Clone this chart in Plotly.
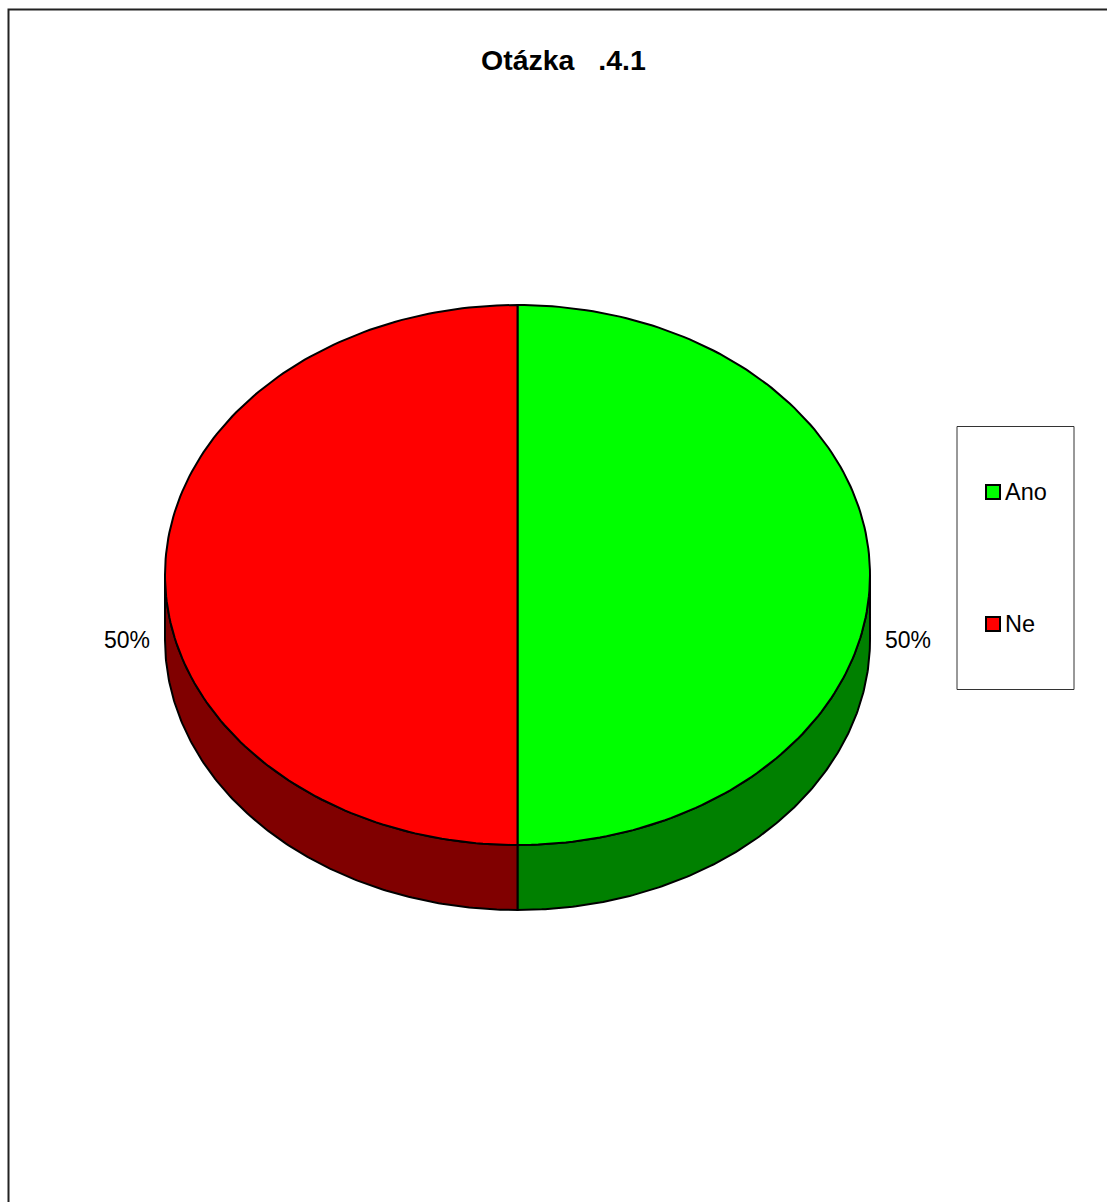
import math
import plotly.graph_objects as go

# Survey answers for question 4.1
categories = ["Ano", "Ne"]
values = [50, 50]
top_colors = ["#00FF00", "#FF0000"]
side_colors = ["#008000", "#800000"]
title_text = "Otázka\u00a0\u00a0\u00a0.4.1"

W, H = 1107, 1202
FONT = "Arial, 'Liberation Sans', Helvetica, sans-serif"

# Ellipse geometry of the tilted pie (pixel coordinates, y grows downward)
CX, CY = 517.5, 575.0
RX, RY = 352.5, 270.0
DEPTH = 65.0


def pt(deg, drop=0.0):
    r = math.radians(deg)
    return CX + RX * math.cos(r), CY - RY * math.sin(r) + drop


def arc(a_from, a_to, drop=0.0, n=160):
    xs, ys = [], []
    for i in range(n + 1):
        a = a_from + (a_to - a_from) * i / n
        x, y = pt(a, drop)
        xs.append(x)
        ys.append(y)
    return xs, ys


fig = go.Figure()
total = sum(values)

# slice angle ranges: start at 12 o'clock, run clockwise
slices = []
start = 90.0
for v in values:
    sweep = 360.0 * v / total
    slices.append((start, start - sweep))
    start -= sweep

line = dict(color="black", width=2)

# Front walls (only the part of each slice facing the viewer)
for (a0, a1), col in zip(slices, side_colors):
    for k in (-1, 0, 1):
        lo = max(a1, -180 + 360 * k)
        hi = min(a0, 0 + 360 * k)
        if hi - lo <= 0:
            continue
        tx, ty = arc(hi, lo)
        bx, by = arc(lo, hi, DEPTH)
        fig.add_trace(go.Scatter(
            x=tx + bx + [tx[0]], y=ty + by + [ty[0]],
            mode="lines", fill="toself", fillcolor=col,
            line=line, hoverinfo="skip", showlegend=False))

# Top faces
for (a0, a1), col in zip(slices, top_colors):
    ax, ay = arc(a0, a1)
    fig.add_trace(go.Scatter(
        x=[CX] + ax + [CX], y=[CY] + ay + [CY],
        mode="lines", fill="toself", fillcolor=col,
        line=line, hoverinfo="skip", showlegend=False))

# Percentage labels outside the pie
lab_x, lab_y, lab_t = [], [], []
for (a0, a1), v in zip(slices, values):
    mid = (a0 + a1) / 2.0
    r = math.radians(mid)
    lab_x.append(CX + (RX + 38) * math.cos(r))
    lab_y.append(CY - (RY + 38) * math.sin(r) + DEPTH + 2)
    lab_t.append(f"{round(100 * v / total)}%")
fig.add_trace(go.Scatter(
    x=lab_x, y=lab_y, text=lab_t, mode="text",
    textfont=dict(family=FONT, size=23, color="black"),
    hoverinfo="skip", showlegend=False))

# Legend drawn as a boxed key
leg_y = [492, 624]
fig.add_trace(go.Scatter(
    x=[993] * len(categories), y=leg_y, mode="markers",
    marker=dict(symbol="square", size=14, color=top_colors,
                line=dict(color="black", width=2)),
    hoverinfo="skip", showlegend=False))
fig.add_trace(go.Scatter(
    x=[1005] * len(categories), y=[v + 2 for v in leg_y], text=categories,
    mode="text", textposition="middle right",
    textfont=dict(family=FONT, size=23.5, color="black"),
    hoverinfo="skip", showlegend=False))

fig.add_shape(type="rect", x0=957, y0=426.5, x1=1074, y1=689.5,
              line=dict(color="#333333", width=1), layer="below")
# Chart area frame
fig.add_shape(type="rect", x0=8.5, y0=9.5, x1=1115, y1=1215,
              line=dict(color="#222222", width=2), layer="below")

fig.add_annotation(x=563.5, y=60, text=f"<b>{title_text}</b>",
                   showarrow=False,
                   font=dict(family=FONT, size=28.5, color="black"))

fig.update_xaxes(range=[0, W], visible=False, fixedrange=True)
fig.update_yaxes(range=[H, 0], visible=False, fixedrange=True)
fig.update_layout(width=W, height=H, margin=dict(l=0, r=0, t=0, b=0),
                  paper_bgcolor="white", plot_bgcolor="white",
                  showlegend=False)

fig.write_html("out.html")
